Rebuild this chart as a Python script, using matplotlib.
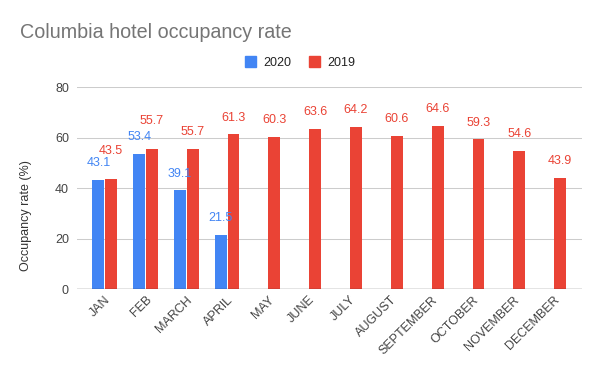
import numpy as np
from matplotlib import pyplot as plt
from matplotlib.patches import Patch

months = ['JAN', 'FEB', 'MARCH', 'APRIL', 'MAY', 'JUNE', 'JULY', 'AUGUST',
          'SEPTEMBER', 'OCTOBER', 'NOVEMBER', 'DECEMBER']
rate_2020 = [43.1, 53.4, 39.1, 21.5]
rate_2019 = [43.5, 55.7, 55.7, 61.3, 60.3, 63.6, 64.2, 60.6, 64.6, 59.3, 54.6, 43.9]

blue = '#4285F4'
red = '#EA4335'

plt.rcParams['font.family'] = ['Liberation Sans', 'DejaVu Sans']

fig = plt.figure(figsize=(6, 3.71), dpi=100)
ax = fig.add_axes([77.3 / 600, 1 - 289 / 371, (582 - 77.3) / 600, (289 - 87.3) / 371])

w = 0.29
off = 0.155
x20 = np.arange(len(rate_2020))
x19 = np.arange(len(rate_2019))
ax.bar(x20 - off, rate_2020, width=w, color=blue, zorder=3)
ax.bar(x19 + off, rate_2019, width=w, color=red, zorder=3)

for xi, v in zip(x20, rate_2020):
    ax.annotate(f'{v}', (xi - off, v), xytext=(0, 10), textcoords='offset points',
                ha='center', va='baseline', color=blue, fontsize=9)
for xi, v in zip(x19, rate_2019):
    dy = 10
    # push the label up when it would collide with the 2020 label next to it
    if xi < len(rate_2020) and abs(v - rate_2020[xi]) < 5:
        dy = 18
    ax.annotate(f'{v}', (xi + off, v), xytext=(0, dy), textcoords='offset points',
                ha='center', va='baseline', color=red, fontsize=9)

ax.set_xlim(-0.67, 11.69)
ax.set_ylim(0, 80)
ax.set_yticks([0, 20, 40, 60, 80])
ax.grid(axis='y', color='#cccccc', linewidth=0.75, zorder=0)
ax.axhline(0, color='#333333', linewidth=0.9, zorder=4)
for s in ax.spines.values():
    s.set_visible(False)
ax.tick_params(axis='both', length=0, labelsize=9, labelcolor='#444444')
ax.tick_params(axis='y', pad=6)
ax.set_xticks(x19)
ax.set_xticklabels(months, rotation=45, ha='right', rotation_mode='anchor')

ax.set_ylabel('Occupancy rate (%)', fontsize=9, color='#333333')
ax.yaxis.set_label_coords(-0.09, 0.363)

fig.text(20 / 600, 1 - 32 / 371, 'Columbia hotel occupancy rate', fontsize=14.2,
         color='#757575', va='center', ha='left')

handles = [Patch(color=blue, label='2020'), Patch(color=red, label='2019')]
fig.legend(handles=handles, loc='center', bbox_to_anchor=(300 / 600, 1 - 62.5 / 371),
           ncol=2, frameon=False, fontsize=9, handlelength=0.9, handleheight=0.9,
           handletextpad=0.6, columnspacing=1.4, labelcolor='#222222')

fig.savefig('out.png', dpi=100)
